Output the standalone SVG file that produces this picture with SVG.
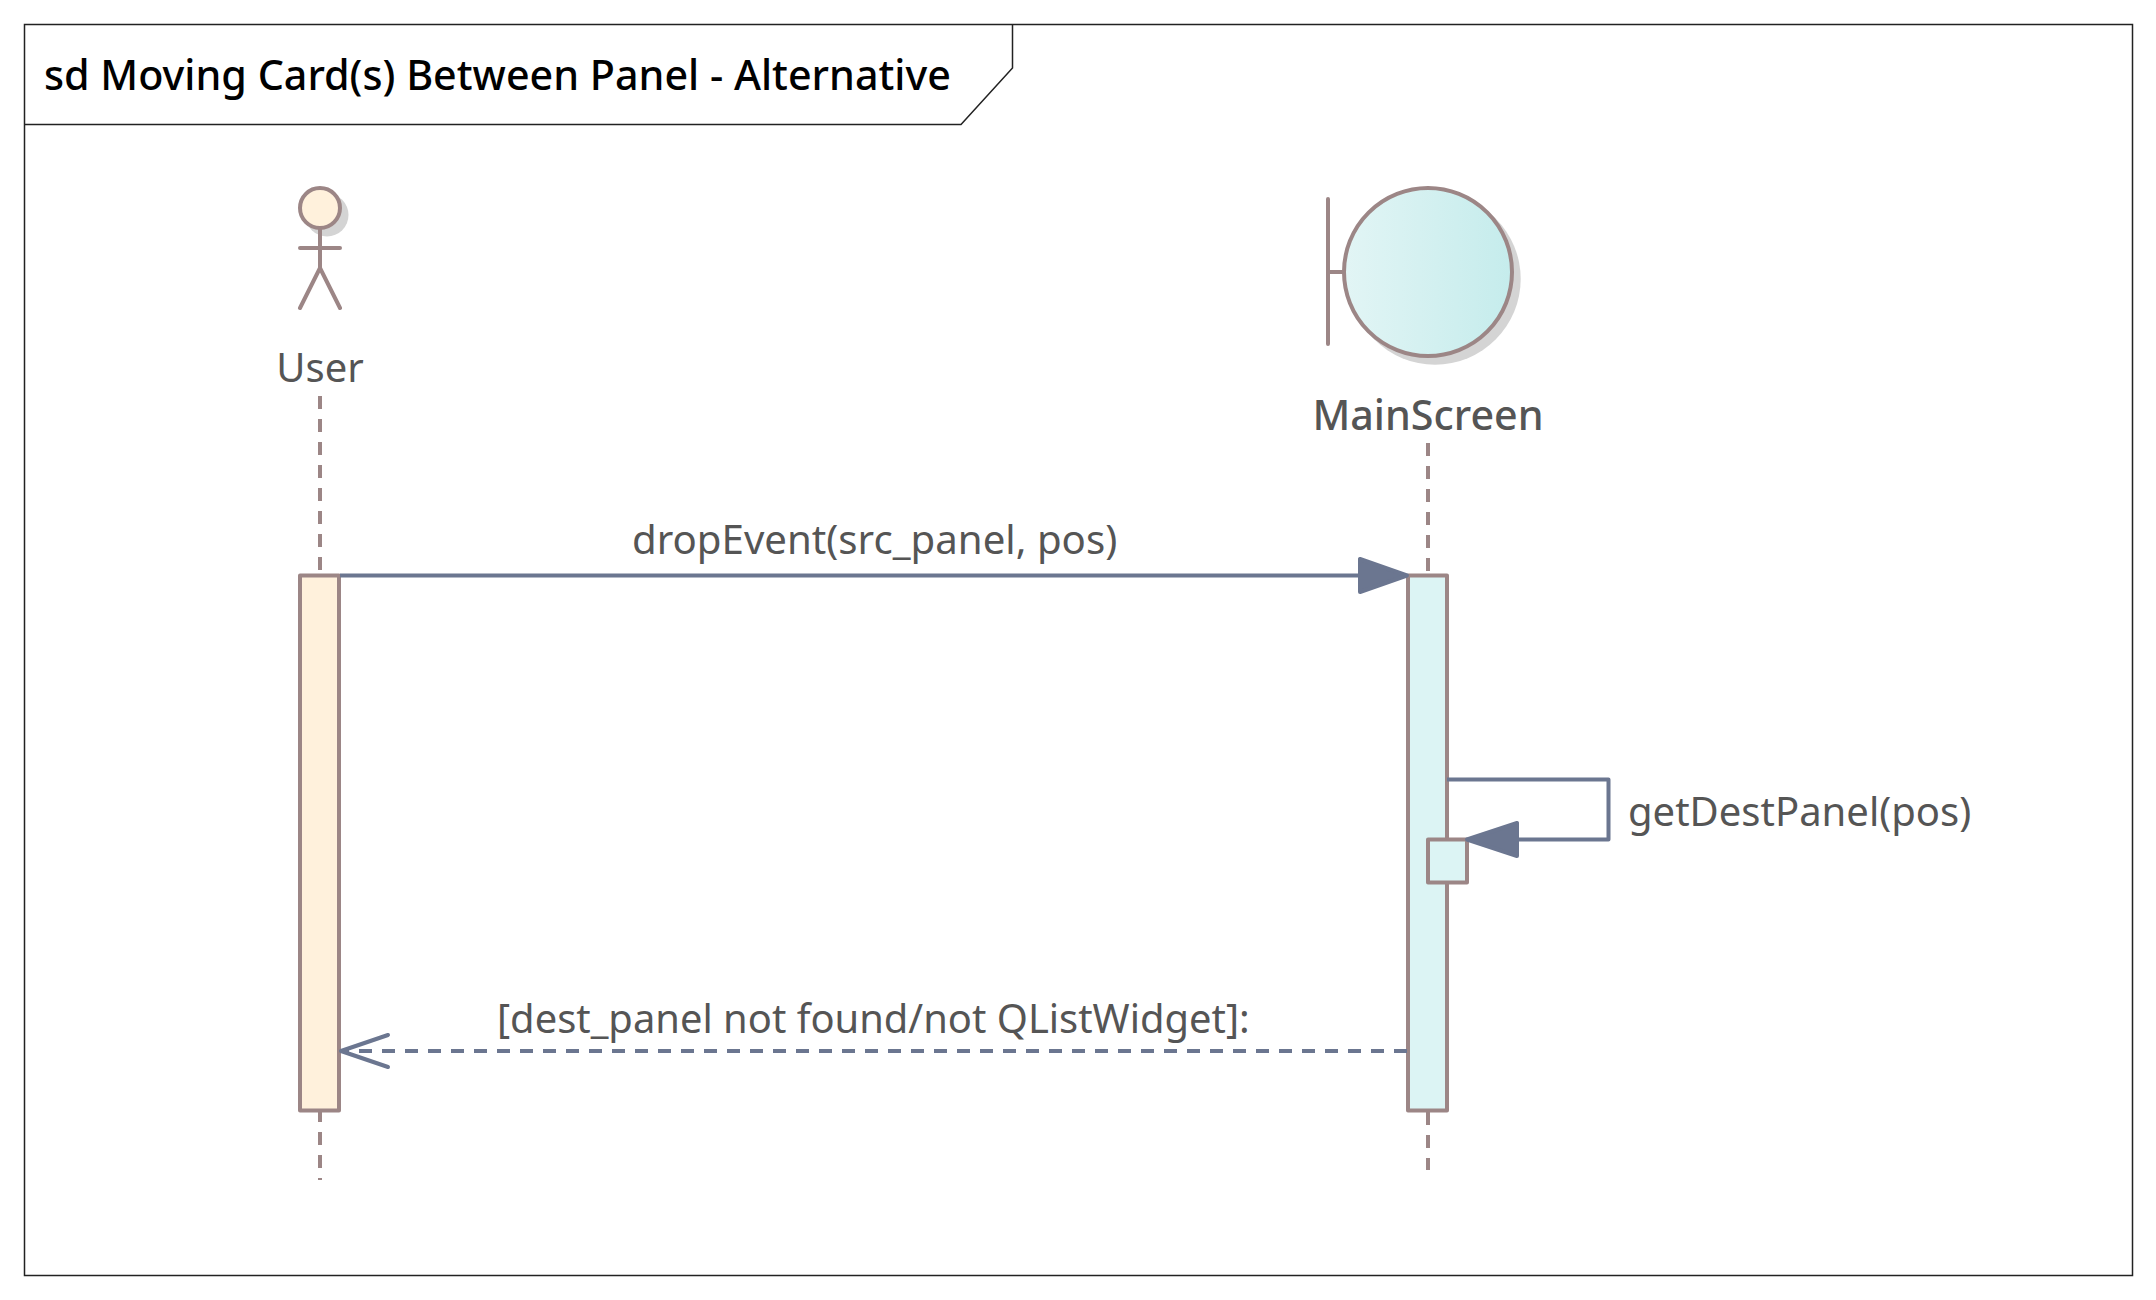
<svg xmlns="http://www.w3.org/2000/svg" width="2156" height="1300" viewBox="0 0 2156 1300">
<style>
text{font-family:"Noto Sans","Open Sans","Liberation Sans",sans-serif;font-size:40px;fill:#555555}
.title{fill:#000000;font-size:41.25px;font-weight:500}
.name{font-size:41.25px;font-weight:500}
.mid{text-anchor:middle}
.frame{fill:none;stroke:#222222;stroke-width:1.5}
.fig{fill:none;stroke:#9c8686;stroke-width:4;stroke-linecap:round;stroke-linejoin:round}
.life{fill:none;stroke:#9c8686;stroke-width:4;stroke-dasharray:13 10}
.shadow{fill:#d4d4d4}
.msg{fill:none;stroke:#6b7690;stroke-width:4;stroke-linejoin:round}
.head{fill:#6b7690;stroke:#6b7690;stroke-width:4;stroke-linejoin:round}
.act{stroke:#9c8686;stroke-width:4;stroke-linejoin:round}
</style>
<defs>
<linearGradient id="bg" x1="0" x2="1" y1="0" y2="0"><stop offset="0" stop-color="#e2f5f5"/><stop offset="1" stop-color="#c5ecec"/></linearGradient>
</defs>
<rect width="2156" height="1300" fill="#ffffff"/>
<g id="frame">
<rect class="frame" x="24.5" y="24.5" width="2108" height="1251"/>
<path class="frame" d="M24.5 124.5H961L1012.5 68V24.5"/>
<text class="title" x="44" y="90">sd Moving Card(s) Between Panel - Alternative</text>
</g>
<g id="user">
<circle class="shadow" cx="327" cy="215" r="21.5"/>
<path class="life" d="M320 396V1180"/>
<rect class="act" x="300" y="575.5" width="39" height="535" fill="#fff1dc"/>
<circle cx="320" cy="208" r="20" fill="#fff1dc" stroke="#9c8686" stroke-width="4"/>
<path class="fig" d="M320 228V268M300 248H340M300 308L320 268L340 308"/>
<text class="mid" x="320" y="382">User</text>
</g>
<g id="mainscreen">
<circle class="shadow" cx="1435" cy="279" r="85.7"/>
<path class="life" d="M1428 443V576M1428 1112V1170"/>
<rect class="act" x="1408" y="575.5" width="39" height="535" fill="#dcf4f4"/>
<rect class="act" x="1428" y="839.5" width="39" height="43" fill="#dcf4f4"/>
<path class="fig" d="M1328 199V344M1328 272H1344"/>
<circle cx="1428" cy="272" r="84" fill="url(#bg)" stroke="#9c8686" stroke-width="4"/>
<text class="mid name" x="1428" y="430">MainScreen</text>
</g>
<g id="connectors">
<path class="msg" d="M340 575.5H1360"/>
<path class="head" d="M1407 575.5L1360 559V592Z"/>
<path class="msg" d="M1447 779.5H1608.5V839.5H1517"/>
<path class="head" d="M1467 839.5L1517 823V856Z"/>
<path class="msg" stroke-dasharray="13 10" d="M1407 1051H342"/>
<path class="msg" stroke-linecap="round" d="M388 1035L341 1051L388 1067"/>
</g>
<g id="labels">
<text x="632" y="553.5" style="font-size:40.2px">dropEvent(src_panel, pos)</text>
<text x="1628" y="825.5">getDestPanel(pos)</text>
<text x="497" y="1033" style="font-size:39.9px">[dest_panel not found/not QListWidget]:</text>
</g>
</svg>
